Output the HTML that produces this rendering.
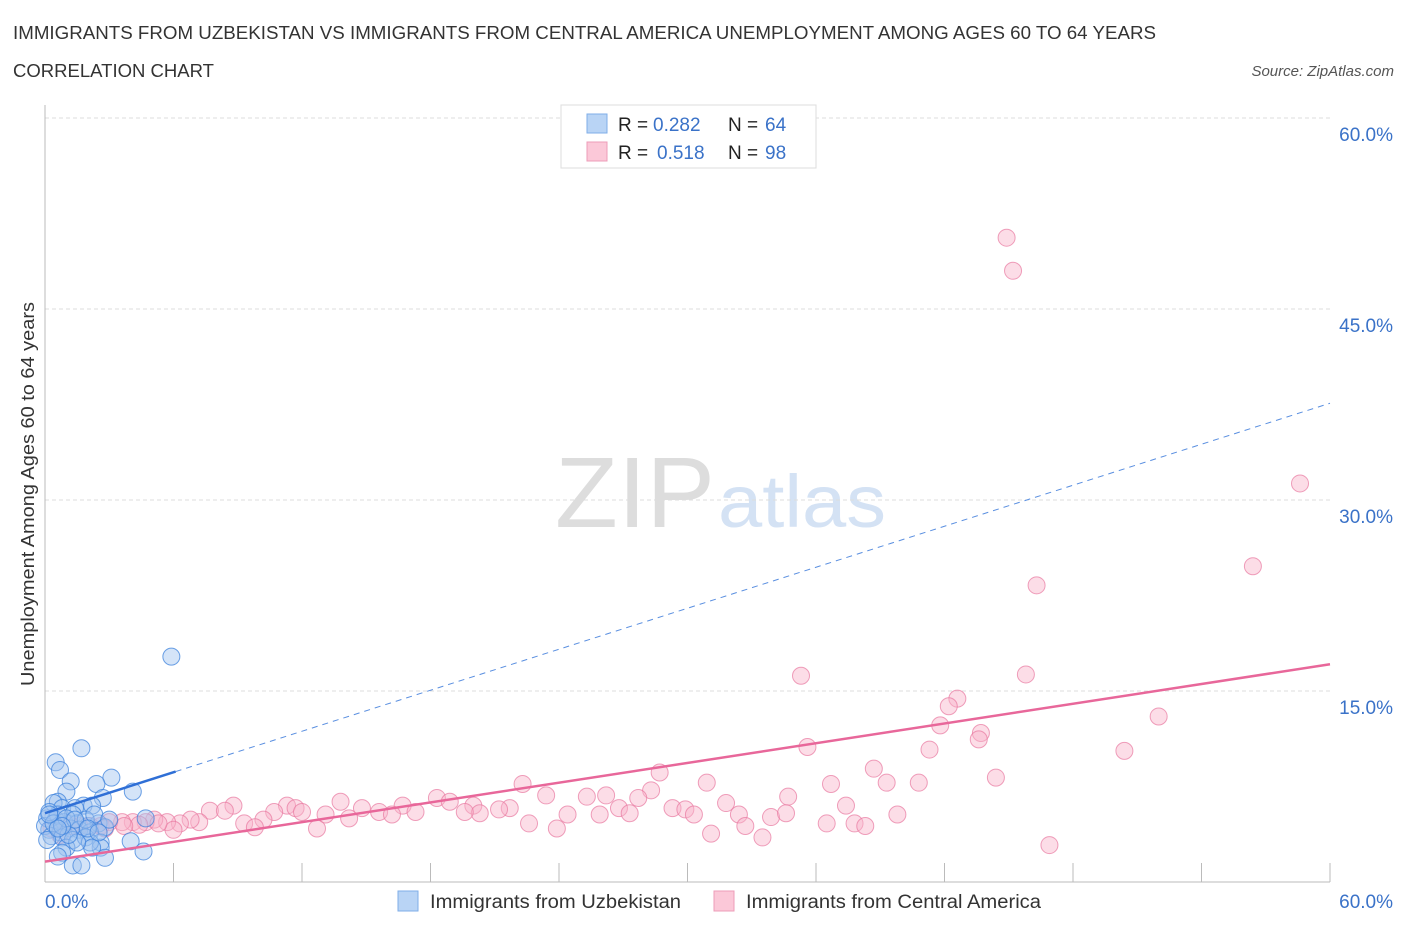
<!DOCTYPE html>
<html><head><meta charset="utf-8">
<style>
body{margin:0;background:#fff;font-family:"Liberation Sans",sans-serif;}
svg text{font-family:"Liberation Sans",sans-serif;}
</style></head>
<body>
<svg id="chart" width="1406" height="930" viewBox="0 0 1406 930" xmlns="http://www.w3.org/2000/svg">
<text x="13" y="39" font-size="18" fill="#333" textLength="1143" lengthAdjust="spacingAndGlyphs">IMMIGRANTS FROM UZBEKISTAN VS IMMIGRANTS FROM CENTRAL AMERICA UNEMPLOYMENT AMONG AGES 60 TO 64 YEARS</text>
<text x="13" y="77" font-size="18" fill="#333" textLength="201" lengthAdjust="spacingAndGlyphs">CORRELATION CHART</text>
<text x="1394" y="76" font-size="15" fill="#555" font-style="italic" text-anchor="end">Source: ZipAtlas.com</text>
<g>
<text x="555" y="527" font-size="100" fill="#ddd" font-family="Liberation Serif" textLength="160" lengthAdjust="spacingAndGlyphs">ZIP</text>
<text x="718" y="527" font-size="74" fill="#d4e2f4" textLength="168" lengthAdjust="spacingAndGlyphs">atlas</text>
</g>
<g id="grid"></g>
<g id="axes"></g>
<g id="pts"></g>
<g id="lines"></g>
<text transform="translate(34,494) rotate(-90)" font-size="18" fill="#333" text-anchor="middle" textLength="384" lengthAdjust="spacingAndGlyphs">Unemployment Among Ages 60 to 64 years</text>
<g>
<rect x="561" y="105" width="255" height="63" fill="#fff" stroke="#ddd"/>
<rect x="587" y="114" width="20" height="19" fill="#b9d4f5" stroke="#7faee8"/>
<rect x="587" y="142" width="20" height="19" fill="#fbc8d8" stroke="#ee9cb8"/>
<text x="618" y="131" font-size="19" fill="#222">R =</text>
<text x="653" y="131" font-size="19" fill="#3a72c8">0.282</text>
<text x="728" y="131" font-size="19" fill="#222">N =</text>
<text x="765" y="131" font-size="19" fill="#3a72c8">64</text>
<text x="618" y="159" font-size="19" fill="#222">R =</text>
<text x="657" y="159" font-size="19" fill="#3a72c8">0.518</text>
<text x="728" y="159" font-size="19" fill="#222">N =</text>
<text x="765" y="159" font-size="19" fill="#3a72c8">98</text>
</g>
<g>
<rect x="398" y="891" width="20" height="20" fill="#b9d4f5" stroke="#7faee8"/>
<text x="430" y="908" font-size="19" fill="#333" textLength="251" lengthAdjust="spacingAndGlyphs">Immigrants from Uzbekistan</text>
<rect x="714" y="891" width="20" height="20" fill="#fbc8d8" stroke="#ee9cb8"/>
<text x="746" y="908" font-size="19" fill="#333" textLength="295" lengthAdjust="spacingAndGlyphs">Immigrants from Central America</text>
</g>
</svg>
<script>
const yTicks=[15,30,45,60];
const xTickCount=10;
const blueX=[5.9,1.7,0.5,0.7,3.1,1.2,2.4,1.0,4.1,2.7,0.6,1.8,2.2,0.4,0.8,1.4,4.7,1.3,0.1,0.5,0.9,1.5,2.0,2.5,2.8,0.2,0.7,1.2,1.6,2.1,0.0,0.3,0.8,1.3,1.9,2.6,4.0,2.6,4.6,1.0,2.1,0.8,0.6,2.2,2.8,1.3,1.7,1.5,1.1,0.6,1.9,2.3,0.2,3.0,0.1,0.4,1.0,1.4,0.8,2.0,2.5,0.6,0.2];
const blueY=[17.7,10.5,9.4,8.8,8.2,7.9,7.7,7.1,7.1,6.6,6.3,6.0,6.0,6.2,5.8,5.8,5.0,5.3,5.0,4.9,4.7,4.6,4.4,4.6,4.3,4.1,3.9,4.2,4.1,3.9,4.4,3.6,3.5,3.3,3.5,3.1,3.2,2.7,2.4,2.7,3.1,2.3,2.0,2.7,1.9,1.3,1.3,3.1,3.7,5.3,4.9,5.3,5.5,4.9,3.3,4.6,5.0,4.9,4.4,4.2,3.9,4.2,5.3];
const pinkX=[44.9,45.2,58.6,56.4,46.3,35.3,45.8,42.6,42.2,41.8,43.7,43.6,52.0,35.6,41.3,50.4,28.7,38.7,30.9,36.7,39.3,40.8,44.4,22.3,23.4,18.3,18.9,13.8,16.7,8.8,11.3,11.7,7.7,8.4,14.8,17.3,20.0,21.7,25.3,26.2,28.3,27.7,31.8,34.7,37.4,29.3,29.9,30.3,26.8,27.3,24.4,25.9,20.3,21.2,19.6,15.6,16.2,14.2,13.1,12.0,10.7,10.2,9.3,9.8,12.7,32.4,33.9,34.6,39.8,37.8,38.3,36.5,32.7,31.1,33.5,23.9,22.6,46.9,7.2,6.8,6.3,5.7,5.1,4.7,4.1,3.6,3.0,2.6,2.1,1.6,1.2,0.7,0.3,0.7,2.8,6.0,5.3,4.4,3.7];
const pinkY=[50.6,48.0,31.3,24.8,23.3,16.2,16.3,14.4,13.8,12.3,11.7,11.2,13.0,10.6,10.4,10.3,8.6,8.9,7.8,7.7,7.8,7.8,8.2,7.7,6.8,6.6,6.3,6.3,6.0,6.0,6.0,5.8,5.6,5.6,5.8,5.5,6.0,5.8,6.7,6.8,7.2,6.6,6.2,6.7,6.0,5.8,5.7,5.3,5.8,5.4,5.3,5.3,5.4,5.7,5.5,5.5,5.3,5.0,5.3,5.5,5.5,4.9,4.6,4.3,4.2,5.3,5.1,5.4,5.3,4.6,4.4,4.6,4.4,3.8,3.5,4.2,4.6,2.9,4.7,4.9,4.6,4.7,4.9,4.7,4.7,4.7,4.7,4.4,4.4,4.4,4.4,4.4,4.2,3.7,4.2,4.1,4.6,4.5,4.4];
const blueTrend=[5.4,37.6];
const pinkTrend=[1.6,17.1];
const NS="http://www.w3.org/2000/svg";
const X0=45,X1=1330,Y0=882,Y1=118;
function sx(v){return X0+(X1-X0)*v/60;}
function sy(v){return Y0-(Y0-Y1)*v/60;}
function mk(tag,attrs,parent){const e=document.createElementNS(NS,tag);for(const k in attrs)e.setAttribute(k,attrs[k]);parent.appendChild(e);return e;}
const grid=document.getElementById('grid'),axes=document.getElementById('axes'),pts=document.getElementById('pts'),lines=document.getElementById('lines');
yTicks.forEach(t=>{
 const l=mk('line',{x1:X0,x2:X1,y1:sy(t),y2:sy(t),stroke:'#ddd','stroke-dasharray':'4,3'},grid);
 
 
 const tx=mk('text',{x:1393,y:sy(t)+23,'font-size':19,fill:'#3a72c8','text-anchor':'end'},grid);
 tx.textContent=t.toFixed(1)+'%';
 
 
});
const ya=mk('line',{x1:X0,x2:X0,y1:105,y2:Y0,stroke:'#bbb'},axes);


const xa=mk('line',{x1:X0,x2:X1,y1:Y0,y2:Y0,stroke:'#bbb'},axes);


for(let i=1;i<=xTickCount;i++){
 const v=60*i/xTickCount;
 const tk=mk('line',{x1:sx(v),x2:sx(v),y1:Y0-19,y2:Y0,stroke:'#bbb'},axes);
 
 
}
const xl0=mk('text',{x:45,y:908,'font-size':19,fill:'#3a72c8'},axes);xl0.textContent='0.0%';


const xl1=mk('text',{x:1393,y:908,'font-size':19,fill:'#3a72c8','text-anchor':'end'},axes);xl1.textContent='60.0%';


pinkX.forEach((x,i)=>{
 const c=mk('circle',{cx:sx(x),cy:sy(pinkY[i]),r:8.5,fill:'rgba(248,180,202,0.45)',stroke:'rgba(232,120,160,0.7)','stroke-width':1},pts);
 
 
});
blueX.forEach((x,i)=>{
 const c=mk('circle',{cx:sx(x),cy:sy(blueY[i]),r:8.5,fill:'rgba(160,196,240,0.45)',stroke:'rgba(60,130,220,0.75)','stroke-width':1},pts);
 
 
});
const bx=6.1;
const bySolid=blueTrend[0]+(blueTrend[1]-blueTrend[0])*bx/60;
const b1=mk('line',{x1:sx(0),y1:sy(blueTrend[0]),x2:sx(bx),y2:sy(bySolid),stroke:'#2f6fd6','stroke-width':2.5},lines);


const b2=mk('line',{x1:sx(bx),y1:sy(bySolid),x2:sx(60),y2:sy(blueTrend[1]),stroke:'#5a8fe0','stroke-width':1,'stroke-dasharray':'6,5'},lines);


const p1=mk('line',{x1:sx(0),y1:sy(pinkTrend[0]),x2:sx(60),y2:sy(pinkTrend[1]),stroke:'#e8679a','stroke-width':2.5},lines);


</script>
</body></html>
